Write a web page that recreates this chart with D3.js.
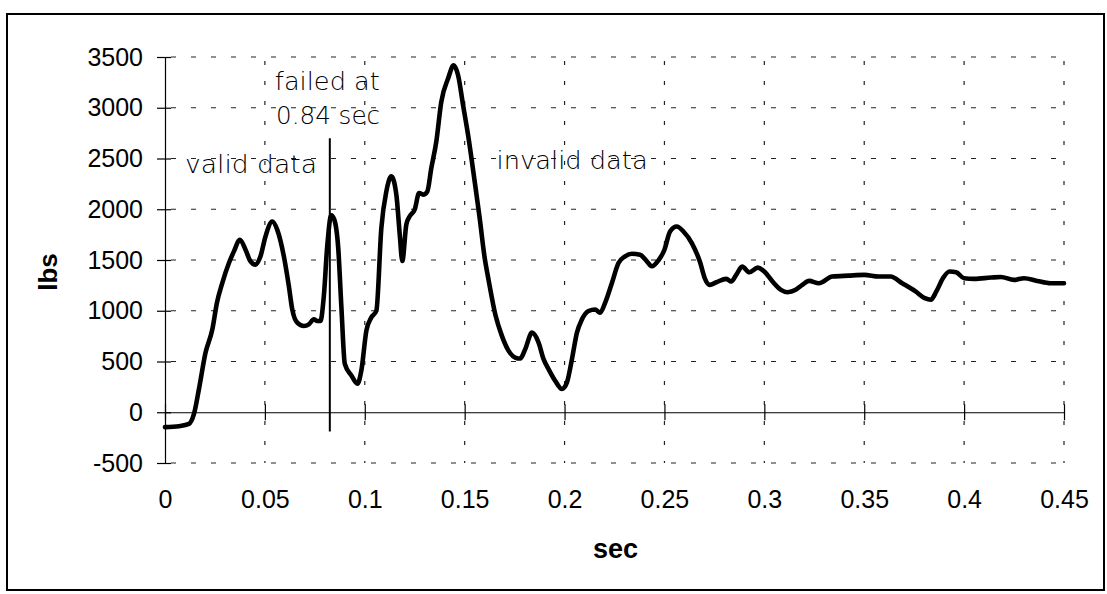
<!DOCTYPE html>
<html>
<head>
<meta charset="utf-8">
<script src="https://cdn.jsdelivr.net/npm/d3@7"></script>
<style>
  html, body { margin: 0; padding: 0; background: #fff; }
  svg { display: block; }
</style>
</head>
<body>
<svg id="chart" width="1107" height="594"></svg>
<script>
// ---- data ----
const tSec = [0,0.007,0.012,0.0145,0.017,0.0203,0.0237,0.026,0.0287,0.032,0.0345,0.0375,0.0403,0.0428,0.0453,0.0478,0.0503,0.0537,0.0562,0.0595,0.062,0.0637,0.0662,0.0695,0.072,0.0745,0.0762,0.0778,0.0795,0.0812,0.0832,0.0847,0.0867,0.0883,0.09,0.0933,0.0963,0.0983,0.1008,0.1033,0.1058,0.1083,0.1108,0.1133,0.1158,0.1175,0.1188,0.1208,0.1225,0.125,0.1272,0.1292,0.1313,0.1333,0.1358,0.1383,0.1417,0.1445,0.1467,0.1492,0.1517,0.155,0.1575,0.16,0.162,0.1655,0.1685,0.172,0.1753,0.1778,0.1803,0.1837,0.187,0.1895,0.192,0.1953,0.1987,0.2012,0.2037,0.2062,0.2087,0.212,0.2153,0.2178,0.2203,0.2237,0.227,0.2303,0.2337,0.2378,0.2412,0.2437,0.247,0.25,0.2528,0.2562,0.2595,0.2637,0.2678,0.2702,0.2727,0.276,0.281,0.2834,0.2859,0.2889,0.2925,0.2967,0.3,0.3041,0.3083,0.3116,0.3157,0.319,0.3224,0.3273,0.334,0.3422,0.35,0.3573,0.3632,0.369,0.3757,0.3803,0.3833,0.3861,0.3894,0.3927,0.396,0.4,0.4051,0.4134,0.4184,0.425,0.43,0.4366,0.4432,0.45];
const lbs = [-147,-137,-114,-16,229,588,817,1078,1275,1470,1585,1700,1601,1487,1454,1536,1732,1879,1797,1536,1242,1013,882,850,866,915,899,899,1144,1634,1940,1900,1621,1033,477,363,281,412,804,935,1000,1817,2176,2324,2144,1752,1490,1850,1931,1997,2160,2144,2176,2405,2667,3059,3288,3418,3320,3026,2732,2275,1915,1523,1300,950,760,605,539,529,621,784,686,523,425,310,229,294,523,784,915,997,1013,980,1078,1274,1470,1536,1562,1552,1487,1438,1497,1601,1781,1830,1781,1667,1480,1320,1255,1281,1314,1288,1353,1435,1379,1425,1386,1288,1206,1183,1206,1255,1294,1271,1337,1346,1353,1337,1337,1271,1190,1124,1108,1190,1320,1386,1379,1320,1314,1327,1333,1304,1320,1294,1271,1271];
const xTicks = [0,0.05,0.1,0.15,0.2,0.25,0.3,0.35,0.4,0.45];
const xTickLabels = ["0","0.05","0.1","0.15","0.2","0.25","0.3","0.35","0.4","0.45"];
const yTicks = [-500,0,500,1000,1500,2000,2500,3000,3500];
const yTickLabels = ["-500","0","500","1000","1500","2000","2500","3000","3500"];
const xTitle = "sec";
const yTitle = "lbs";
const failLineT = 0.0825;
const failLineRange = [-190, 2700];
const notes = [
  {text: "valid data", t: 0.010, v: 2355},
  {text: "failed at", t: 0.055, v: 3172},
  {text: "0.84 sec", t: 0.0556, v: 2837},
  {text: "invalid data", t: 0.166, v: 2394}
];

// ---- drawing ----
const svg = d3.select("#chart");
const x = d3.scaleLinear().domain([0, 0.45]).range([165, 1064]);
const y = d3.scaleLinear().domain([-500, 3500]).range([463, 57]);

// outer frame
svg.append("rect").attr("x", 7).attr("y", 14).attr("width", 1097).attr("height", 576)
  .attr("fill", "none").attr("stroke", "#000").attr("stroke-width", 2);

// grid
const g = svg.append("g");
g.selectAll("line.hg").data(yTicks.filter(d => d !== 0)).join("line")
  .attr("x1", x(0)).attr("x2", x(0.45))
  .attr("y1", d => y(d)).attr("y2", d => y(d))
  .attr("stroke", "#222").attr("stroke-width", 1.2).attr("stroke-dasharray", "5,15")
  .attr("stroke-dashoffset", -6);
g.selectAll("line.vg").data(xTicks.filter(d => d !== 0)).join("line")
  .attr("x1", d => x(d)).attr("x2", d => x(d))
  .attr("y1", y(3500)).attr("y2", y(-500))
  .attr("stroke", "#222").attr("stroke-width", 1.2).attr("stroke-dasharray", "4,16")
  .attr("stroke-dashoffset", -4);

// y axis
const yAxis = d3.axisLeft(y).tickValues(yTicks).tickSize(8)
  .tickFormat((d, i) => yTickLabels[i]).tickPadding(14);
const ya = svg.append("g").attr("transform", `translate(${x(0)},0)`).call(yAxis);
ya.select(".domain").attr("stroke", "#000").attr("stroke-width", 1.2);
ya.selectAll(".tick line").attr("x2", -8).attr("x1", 6).attr("stroke", "#000").attr("stroke-width", 1.2);
ya.selectAll(".tick text").attr("font-family", "'Liberation Sans', Arial, sans-serif")
  .attr("font-size", 25).attr("fill", "#000").attr("dx", 0).attr("x", -22);

// x axis at zero
const xAxis = d3.axisBottom(x).tickValues(xTicks).tickSize(8)
  .tickFormat((d, i) => xTickLabels[i]);
const xa = svg.append("g").attr("transform", `translate(0,${y(0)})`).call(xAxis);
xa.select(".domain").attr("stroke", "#000").attr("stroke-width", 1.2).attr("d", `M${x(0)},0.5H${x(0.45)}`);
xa.selectAll(".tick line").attr("y1", -8).attr("y2", 8).attr("stroke", "#000").attr("stroke-width", 1.2);
xa.selectAll(".tick text").attr("font-family", "'Liberation Sans', Arial, sans-serif")
  .attr("font-size", 25).attr("fill", "#000")
  .attr("y", y(-500) - y(0) + 27).attr("dy", "0.71em");

// axis titles
svg.append("text").text(xTitle).attr("x", (x(0) + x(0.45)) / 2 + 1).attr("y", 558)
  .attr("text-anchor", "middle").attr("font-family", "'Liberation Sans', Arial, sans-serif")
  .attr("font-weight", "bold").attr("font-size", 27).attr("fill", "#000");
svg.append("text").text(yTitle)
  .attr("transform", `translate(57,${y(1500) + 12}) rotate(-90)`)
  .attr("text-anchor", "middle").attr("font-family", "'Liberation Sans', Arial, sans-serif")
  .attr("font-weight", "bold").attr("font-size", 26).attr("fill", "#000");

// failure marker
svg.append("line").attr("x1", x(failLineT)).attr("x2", x(failLineT))
  .attr("y1", y(failLineRange[1])).attr("y2", y(failLineRange[0]))
  .attr("stroke", "#000").attr("stroke-width", 2);

// data line
const pts = tSec.map((t, i) => [t, lbs[i]]);
svg.append("path").datum(pts)
  .attr("d", d3.line().x(d => x(d[0])).y(d => y(d[1])).curve(d3.curveMonotoneX))
  .attr("fill", "none").attr("stroke", "#000").attr("stroke-width", 4.6)
  .attr("stroke-linejoin", "round").attr("stroke-linecap", "round");

// annotations
const widths = {"valid data": 132, "failed at": 105, "0.84 sec": 104, "invalid data": 151};
svg.selectAll("text.note").data(notes).join("text")
  .attr("class", "note")
  .attr("x", d => x(d.t)).attr("y", d => y(d.v))
  .attr("font-family", "'DejaVu Sans', sans-serif").attr("font-weight", 300)
  .attr("font-size", 24).attr("fill", "#000")
  .attr("textLength", d => widths[d.text]).attr("lengthAdjust", "spacingAndGlyphs")
  .text(d => d.text);
</script>
</body>
</html>
